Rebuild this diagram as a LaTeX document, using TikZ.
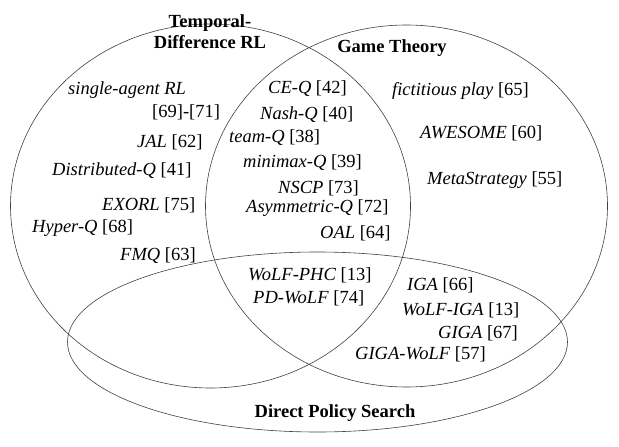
\documentclass[tikz,border=0pt]{standalone}
\usepackage{fontspec}
\setmainfont{Liberation Serif}
\tikzset{
  setline/.style={draw=black!75, line width=0.6pt},
  item/.style={anchor=base west, inner sep=0pt, font=\fontsize{18.5}{20}\selectfont},
  head/.style={anchor=base, inner sep=0pt, align=center, font=\fontsize{18.5}{20.5}\selectfont\bfseries}
}
\begin{document}
\begin{tikzpicture}[x=1pt, y=-1pt]
\useasboundingbox (0,0) rectangle (619,447);
% sets
\draw[setline] (210.5,206) ellipse [x radius=200pt, y radius=182pt];
\draw[setline] (406.5,206) ellipse [x radius=201pt, y radius=181pt];
\draw[setline] (317.5,342) ellipse [x radius=250pt, y radius=90pt];
% headings
\node[head] (td) at (210,48) {Temporal-\\Difference RL};
\node[head] (gt) at (392,52) {Game Theory};
\node[head] (dps) at (335,417) {Direct Policy Search};
% temporal difference only
\node[item] (sarl) at (68,94) {\textit{single-agent RL}};
\node[item] (sarlr) at (152,117) {[69]-[71]};
\node[item] (jal) at (137,147) {\textit{JAL} [62]};
\node[item] (distq) at (52,175) {\textit{Distributed-Q} [41]};
\node[item] (exorl) at (102,210) {\textit{EXORL} [75]};
\node[item] (hyperq) at (32,232) {\textit{Hyper-Q} [68]};
\node[item] (fmq) at (120,260) {\textit{FMQ} [63]};
% TD and game theory
\node[item] (ceq) at (268,93) {\textit{CE-Q} [42]};
\node[item] (nashq) at (260,119) {\textit{Nash-Q} [40]};
\node[item] (teamq) at (229,142) {\textit{team-Q} [38]};
\node[item] (minimaxq) at (243,167) {\textit{minimax-Q} [39]};
\node[item] (nscp) at (278,193) {\textit{NSCP} [73]};
\node[item] (asymq) at (246,212) {\textit{Asymmetric-Q} [72]};
\node[item] (oal) at (320,238) {\textit{OAL} [64]};
% game theory only
\node[item] (fict) at (392,95) {\textit{fictitious play} [65]};
\node[item] (awesome) at (420,138) {\textit{AWESOME} [60]};
\node[item] (meta) at (427,184) {\textit{MetaStrategy} [55]};
% all three
\node[item] (wolfphc) at (248,280) {\textit{WoLF-PHC} [13]};
\node[item] (pdwolf) at (253,303) {\textit{PD-WoLF} [74]};
% game theory and DPS
\node[item] (iga) at (407,290) {\textit{IGA} [66]};
\node[item] (wolfiga) at (402,315) {\textit{WoLF-IGA} [13]};
\node[item] (giga) at (438,338) {\textit{GIGA} [67]};
\node[item] (gigawolf) at (355,359) {\textit{GIGA-WoLF} [57]};
\end{tikzpicture}
\end{document}
